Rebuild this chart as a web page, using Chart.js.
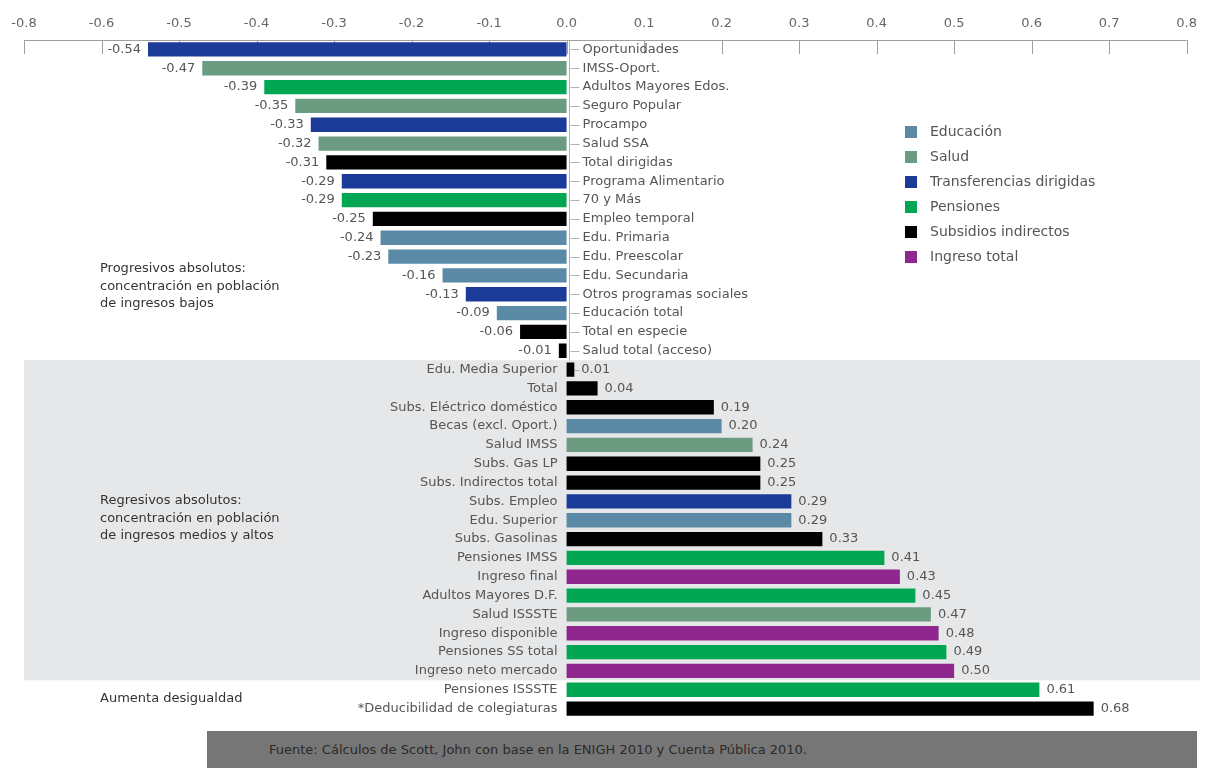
<!DOCTYPE html>
<html>
<head>
<meta charset="utf-8">
<script src="https://cdn.jsdelivr.net/npm/chart.js@4/dist/chart.umd.min.js"></script>
<style>
  html, body { margin: 0; padding: 0; background: #ffffff; }
  #wrap { position: relative; width: 1206px; height: 768px; overflow: hidden; }
  #c { position: absolute; left: 0; top: 0; }
  #foot { position: absolute; left: 207px; top: 731px; width: 990px; height: 37px;
          background: #767676; color: #2a2a2a; font: 13px "DejaVu Sans", sans-serif;
          line-height: 37px; box-sizing: border-box; padding-left: 62px; }
</style>
</head>
<body>
<div id="wrap">
  <canvas id="c" width="1206" height="768"></canvas>
  <div id="foot">Fuente: Cálculos de Scott, John con base en la ENIGH 2010 y Cuenta Pública 2010.</div>
</div>
<script>
const categories = [
  "Oportunidades", "IMSS-Oport.", "Adultos Mayores Edos.", "Seguro Popular", "Procampo",
  "Salud SSA", "Total dirigidas", "Programa Alimentario", "70 y Más", "Empleo temporal",
  "Edu. Primaria", "Edu. Preescolar", "Edu. Secundaria", "Otros programas sociales",
  "Educación total", "Total en especie", "Salud total (acceso)",
  "Edu. Media Superior", "Total", "Subs. Eléctrico doméstico", "Becas (excl. Oport.)",
  "Salud IMSS", "Subs. Gas LP", "Subs. Indirectos total", "Subs. Empleo", "Edu. Superior",
  "Subs. Gasolinas", "Pensiones IMSS", "Ingreso final", "Adultos Mayores D.F.",
  "Salud ISSSTE", "Ingreso disponible", "Pensiones SS total", "Ingreso neto mercado",
  "Pensiones ISSSTE", "*Deducibilidad de colegiaturas"
];
const values = [
  -0.54, -0.47, -0.39, -0.35, -0.33, -0.32, -0.31, -0.29, -0.29, -0.25,
  -0.24, -0.23, -0.16, -0.13, -0.09, -0.06, -0.01,
  0.01, 0.04, 0.19, 0.20, 0.24, 0.25, 0.25, 0.29, 0.29,
  0.33, 0.41, 0.43, 0.45, 0.47, 0.48, 0.49, 0.50, 0.61, 0.68
];
// group index per bar: 0 Educación, 1 Salud, 2 Transferencias, 3 Pensiones, 4 Subsidios, 5 Ingreso
const groups = [
  2, 1, 3, 1, 2, 1, 4, 2, 3, 4,
  0, 0, 0, 2, 0, 4, 4,
  4, 4, 4, 0, 1, 4, 4, 2, 0,
  4, 3, 5, 3, 1, 5, 3, 5, 3, 4
];
const groupNames = ["Educación", "Salud", "Transferencias dirigidas", "Pensiones", "Subsidios indirectos", "Ingreso total"];
const groupColors = ["#5a8aa5", "#6b9b80", "#1c3b98", "#00a651", "#000000", "#8f278f"];
const tickLabels = ["-0.8", "-0.6", "-0.5", "-0.4", "-0.3", "-0.2", "-0.1", "0.0",
                    "0.1", "0.2", "0.3", "0.4", "0.5", "0.6", "0.7", "0.8"];
const notes = [
  { lines: ["Progresivos absolutos:", "concentración en población", "de ingresos bajos"], row: 11.63 },
  { lines: ["Regresivos absolutos:", "concentración en población", "de ingresos medios y altos"], row: 23.95 },
  { lines: ["Aumenta desigualdad"], row: 34.47 }
];

const FONT = '"DejaVu Sans", sans-serif';

const decor = {
  id: 'decor',
  beforeDatasetsDraw(chart) {
    const ctx = chart.ctx, x = chart.scales.x, y = chart.scales.y;
    const area = chart.chartArea;
    ctx.save();
    // shaded band for regresivos
    const top = y.getPixelForValue(16.5), bot = y.getPixelForValue(33.5);
    ctx.fillStyle = '#e6e7e9';
    ctx.fillRect(area.left, top, 1200 - area.left, bot - top);
    // top axis line and downward ticks
    ctx.strokeStyle = '#a0a0a0';
    ctx.lineWidth = 1;
    ctx.beginPath();
    ctx.moveTo(area.left, area.top + 0.5);
    ctx.lineTo(area.right, area.top + 0.5);
    x.ticks.forEach(t => {
      const px = Math.round(x.getPixelForValue(t.value)) + 0.5;
      ctx.moveTo(px, area.top);
      ctx.lineTo(px, area.top + 14);
    });
    ctx.stroke();
    // zero line and row ticks
    const zx = Math.round(x.getPixelForValue(0)) + 0.5;
    ctx.strokeStyle = '#b0b0b0';
    ctx.beginPath();
    ctx.moveTo(zx + 2, area.top);
    ctx.lineTo(zx + 2, y.getPixelForValue(16.5));
    categories.forEach((c, i) => {
      const py = Math.round(y.getPixelForValue(i)) + 0.5;
      ctx.moveTo(zx + 3, py);
      ctx.lineTo(zx + 12, py);
    });
    ctx.stroke();
    // annotation notes
    ctx.fillStyle = '#333333';
    ctx.font = '13px ' + FONT;
    ctx.textAlign = 'left';
    ctx.textBaseline = 'middle';
    notes.forEach(n => {
      const y0 = y.getPixelForValue(n.row);
      n.lines.forEach((l, k) => ctx.fillText(l, 100, y0 + k * 17.8));
    });
    // legend
    ctx.font = '14px ' + FONT;
    groupNames.forEach((g, i) => {
      const ly = 132 + i * 25;
      ctx.fillStyle = groupColors[i];
      ctx.fillRect(905, ly - 6, 12, 12);
      ctx.fillStyle = '#555555';
      ctx.fillText(g, 930, ly);
    });
    ctx.restore();
  },
  afterDatasetsDraw(chart) {
    const ctx = chart.ctx, x = chart.scales.x, y = chart.scales.y;
    const zx = x.getPixelForValue(0);
    ctx.save();
    ctx.font = '13px ' + FONT;
    ctx.textBaseline = 'middle';
    ctx.fillStyle = '#555555';
    values.forEach((v, i) => {
      const py = y.getPixelForValue(i);
      const bx = x.getPixelForValue(v);
      const lbl = v.toFixed(2);
      if (v < 0) {
        ctx.textAlign = 'right';
        ctx.fillText(lbl, bx - 7, py);
        ctx.textAlign = 'left';
        ctx.fillText(categories[i], zx + 16, py);
      } else {
        ctx.textAlign = 'left';
        ctx.fillText(lbl, bx + 7, py);
        ctx.textAlign = 'right';
        ctx.fillText(categories[i], zx - 9, py);
      }
    });
    ctx.restore();
  }
};

new Chart(document.getElementById('c'), {
  type: 'bar',
  data: {
    labels: categories,
    datasets: [{
      data: values,
      backgroundColor: groups.map(g => groupColors[g]),
      borderWidth: 0,
      barPercentage: 0.76,
      categoryPercentage: 1.0
    }]
  },
  options: {
    indexAxis: 'y',
    responsive: false,
    animation: false,
    layout: { padding: { left: 24, right: 16, top: 0, bottom: 50 } },
    plugins: { legend: { display: false }, tooltip: { enabled: false } },
    scales: {
      x: {
        position: 'top',
        min: -0.7,
        max: 0.8,
        afterFit(scale) { scale.height = 40; },
        ticks: {
          stepSize: 0.1,
          padding: 9,
          color: '#666666',
          font: { family: FONT, size: 13 },
          maxRotation: 0,
          autoSkip: false,
          callback: (v, i) => tickLabels[i]
        },
        grid: { display: false, drawTicks: false },
        border: { display: false }
      },
      y: {
        display: false,
        grid: { display: false }
      }
    }
  },
  plugins: [decor]
});
</script>
</body>
</html>
